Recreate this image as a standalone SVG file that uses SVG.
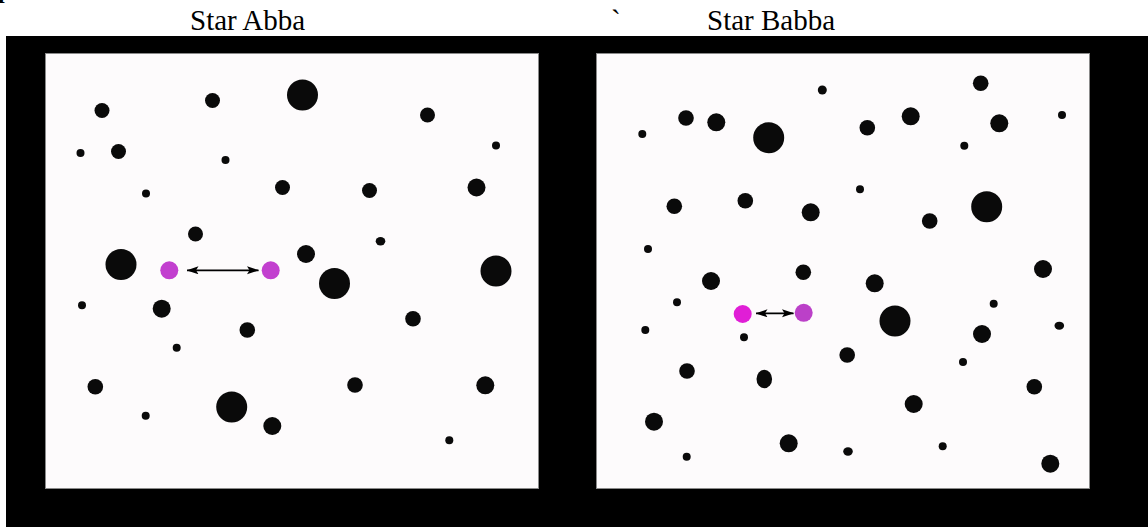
<svg xmlns="http://www.w3.org/2000/svg" width="1148" height="527" viewBox="0 0 1148 527">
<defs>
<style>
.t{font-family:"Liberation Serif","Times New Roman",serif;font-size:29px;fill:#000}
.s{fill:#0a0a0a}
.panel{fill:#fdfbfc;stroke:#8a8a8a;stroke-width:1}
.arr{stroke:#000;stroke-width:1.8;fill:none}
</style>
<marker id="ah" markerUnits="userSpaceOnUse" markerWidth="12" markerHeight="9" refX="11.5" refY="4" orient="auto-start-reverse">
<path d="M0,0 L12,4 L0,8 L2.5,4 z" fill="#000"/>
</marker>
</defs>
<rect width="1148" height="527" fill="#fff"/>
<text x="-2" y="-2" style="font-family:'Liberation Serif',serif;font-size:24px;font-weight:bold">p</text>
<text class="t" x="190" y="30">Star Abba</text>
<text class="t" x="611" y="30">`</text>
<text class="t" x="707" y="30">Star Babba</text>
<rect x="6" y="36" width="1142" height="491" fill="#000"/>
<rect class="panel" x="45.5" y="53.5" width="493" height="435"/>
<rect class="panel" x="596.5" y="53.5" width="493" height="435"/>
<g id="starfield-abba">
<circle class="s" cx="102" cy="110.5" r="7.5"/>
<circle class="s" cx="212.5" cy="100.5" r="7.5"/>
<circle class="s" cx="302.5" cy="95" r="15.5"/>
<circle class="s" cx="427.5" cy="115" r="7.5"/>
<circle class="s" cx="80.5" cy="153" r="4"/>
<circle class="s" cx="118.5" cy="151.5" r="7.5"/>
<circle class="s" cx="225.5" cy="160" r="4"/>
<circle class="s" cx="496" cy="145.5" r="4"/>
<circle class="s" cx="146" cy="193.5" r="4"/>
<circle class="s" cx="282.5" cy="187.5" r="7.5"/>
<circle class="s" cx="369.5" cy="190.5" r="7.5"/>
<circle class="s" cx="476.5" cy="187.5" r="9"/>
<circle class="s" cx="195.5" cy="234" r="7.5"/>
<ellipse class="s" cx="380.5" cy="241.3" rx="4.8" ry="4.2"/>
<circle class="s" cx="121" cy="264.5" r="15.5"/>
<circle class="s" cx="306" cy="254" r="9"/>
<circle class="s" cx="334.5" cy="283.5" r="15.5"/>
<circle class="s" cx="496" cy="271" r="15.5"/>
<circle class="s" cx="82" cy="305.3" r="4"/>
<circle class="s" cx="161.7" cy="308.7" r="9"/>
<circle class="s" cx="413" cy="318.7" r="7.8"/>
<circle class="s" cx="247.3" cy="330" r="7.8"/>
<circle class="s" cx="176.7" cy="347.7" r="4"/>
<circle class="s" cx="95.3" cy="386.7" r="7.8"/>
<circle class="s" cx="355" cy="385" r="7.8"/>
<circle class="s" cx="485.3" cy="385.3" r="9"/>
<circle class="s" cx="231.7" cy="407" r="15.5"/>
<circle class="s" cx="145.7" cy="415.7" r="4"/>
<circle class="s" cx="272.3" cy="426" r="9"/>
<circle class="s" cx="449.3" cy="440.3" r="4"/>
</g>
<g id="star-abba-a"><circle cx="169.3" cy="270.3" r="9" fill="#c23fcf"/></g>
<g id="star-abba-b"><circle cx="270.7" cy="270.3" r="9" fill="#c23fcf"/></g>
<g id="starfield-babba">
<circle class="s" cx="822.3" cy="90" r="4.5"/>
<circle class="s" cx="686" cy="118" r="7.8"/>
<circle class="s" cx="716.3" cy="122.3" r="9"/>
<circle class="s" cx="642.3" cy="134" r="4"/>
<circle class="s" cx="768.7" cy="137.7" r="15.5"/>
<circle class="s" cx="867.3" cy="127.7" r="7.8"/>
<circle class="s" cx="910.7" cy="116.3" r="9"/>
<circle class="s" cx="980.7" cy="83.3" r="7.8"/>
<circle class="s" cx="999.3" cy="123.3" r="9"/>
<circle class="s" cx="1062" cy="115" r="4"/>
<circle class="s" cx="964.3" cy="145.7" r="4"/>
<circle class="s" cx="674.3" cy="206.3" r="7.8"/>
<circle class="s" cx="745.3" cy="200.7" r="7.8"/>
<circle class="s" cx="810.7" cy="212.3" r="9"/>
<circle class="s" cx="860" cy="189.3" r="4"/>
<circle class="s" cx="929.7" cy="221" r="7.8"/>
<circle class="s" cx="986.7" cy="206.7" r="15.5"/>
<circle class="s" cx="648" cy="249" r="4"/>
<circle class="s" cx="711" cy="281" r="9"/>
<circle class="s" cx="803.3" cy="272.3" r="7.8"/>
<circle class="s" cx="874.7" cy="283.3" r="9"/>
<circle class="s" cx="1043" cy="269" r="9"/>
<circle class="s" cx="677" cy="302.3" r="4"/>
<circle class="s" cx="645.3" cy="330" r="4"/>
<circle class="s" cx="744" cy="337.3" r="4"/>
<circle class="s" cx="895" cy="321" r="15.5"/>
<circle class="s" cx="993.7" cy="303.7" r="4"/>
<circle class="s" cx="982" cy="334" r="9"/>
<ellipse class="s" cx="1059.3" cy="325.7" rx="4.8" ry="4"/>
<circle class="s" cx="847.2" cy="355" r="7.8"/>
<circle class="s" cx="687" cy="371" r="7.8"/>
<ellipse class="s" cx="764.3" cy="379" rx="7.8" ry="9.2"/>
<circle class="s" cx="963" cy="362" r="4"/>
<circle class="s" cx="1034.3" cy="386.7" r="7.8"/>
<circle class="s" cx="654" cy="421.7" r="9"/>
<circle class="s" cx="913.7" cy="404" r="9"/>
<circle class="s" cx="788.7" cy="443.3" r="9"/>
<circle class="s" cx="686.7" cy="456.7" r="4"/>
<ellipse class="s" cx="848" cy="451.5" rx="4.8" ry="4.2"/>
<circle class="s" cx="942.7" cy="446.3" r="4"/>
<circle class="s" cx="1050.3" cy="463.7" r="9"/>
</g>
<g id="star-babba-a"><circle cx="742.7" cy="314" r="9" fill="#e01ed6"/></g>
<g id="star-babba-b"><circle cx="803.7" cy="312.8" r="9" fill="#bb40c8"/></g>
<g id="connectors">
<line class="arr" x1="187" y1="270.3" x2="258.5" y2="270.3" marker-start="url(#ah)" marker-end="url(#ah)"/>
<line class="arr" x1="756" y1="313.3" x2="793.5" y2="313.3" marker-start="url(#ah)" marker-end="url(#ah)"/>
</g>
</svg>
